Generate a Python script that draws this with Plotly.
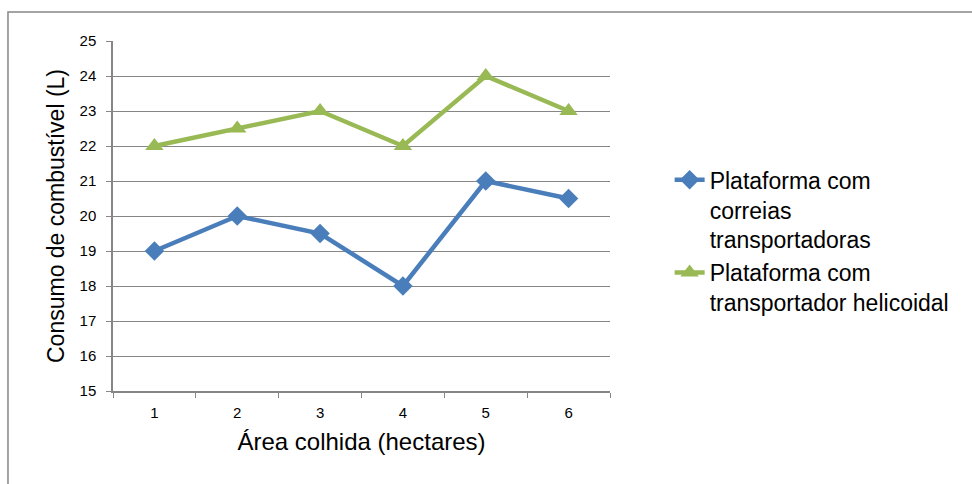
import plotly.graph_objects as go

# Harvested area (hectares) and fuel consumption (L) per platform type
areas = ["1", "2", "3", "4", "5", "6"]
correias = [19, 20, 19.5, 18, 21, 20.5]
helicoidal = [22, 22.5, 23, 22, 24, 23]
series_names = [
    "Plataforma com<br>correias<br>transportadoras",
    "Plataforma com<br>transportador helicoidal",
]

BLUE = "#4A7EBB"
GREEN = "#98B954"
GRID = "#868686"
FONT = "Liberation Sans, Arial, sans-serif"

fig = go.Figure()
fig.add_trace(go.Scatter(
    x=areas, y=correias, name=series_names[0], mode="lines+markers",
    line=dict(color=BLUE, width=4.5),
    marker=dict(symbol="diamond", size=15, color=BLUE),
))
fig.add_trace(go.Scatter(
    x=areas, y=helicoidal, name=series_names[1], mode="lines+markers",
    line=dict(color=GREEN, width=4.5),
    marker=dict(symbol="triangle-up", size=16, color=GREEN),
))

fig.update_layout(
    width=972, height=484,
    margin=dict(l=113, r=362, t=41, b=93),
    paper_bgcolor="white", plot_bgcolor="white",
    font=dict(family=FONT, color="#000000", size=15),
    xaxis=dict(
        type="category", range=[-0.5, 5.5], tickson="boundaries",
        ticks="outside", ticklen=5, tickcolor=GRID, ticklabelstandoff=7,
        showline=True, linecolor=GRID, linewidth=1.5,
        showgrid=False, tickfont=dict(size=15),
        title=dict(text="Área colhida (hectares)", font=dict(size=24), standoff=13),
    ),
    yaxis=dict(
        range=[15, 25], dtick=1, ticks="outside", ticklen=5, tickcolor=GRID,
        ticklabelstandoff=7,
        showline=True, linecolor=GRID, linewidth=1.5,
        showgrid=True, gridcolor=GRID, gridwidth=1.2,
        zeroline=False, tickfont=dict(size=15),
        title=dict(text="Consumo de combustível (L)", font=dict(size=23), standoff=9),
    ),
    legend=dict(
        x=1.12, y=0.665, xanchor="left", yanchor="top",
        font=dict(size=23), valign="top", itemwidth=30,
        bgcolor="rgba(0,0,0,0)",
    ),
    shapes=[dict(
        type="rect", xref="paper", yref="paper",
        x0=-0.2113, x1=1.9, y0=-0.3, y1=1.0829,
        line=dict(color=GRID, width=1.5), fillcolor="rgba(0,0,0,0)", layer="below",
    )],
)

fig.write_html("out.html")
